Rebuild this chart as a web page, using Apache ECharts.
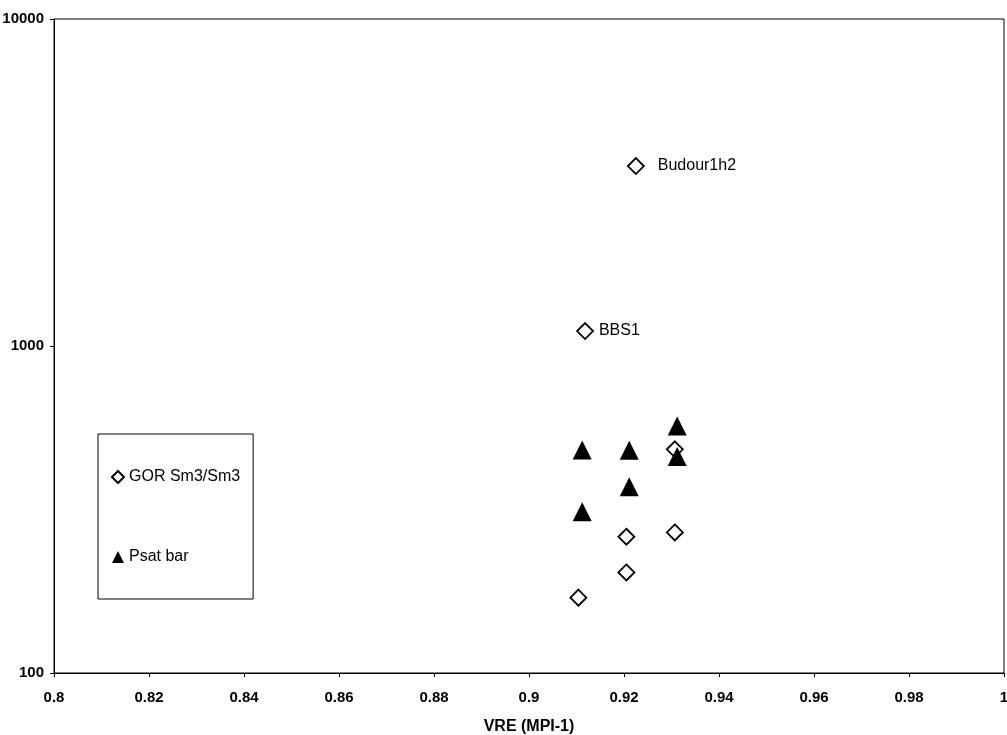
<!DOCTYPE html>
<html>
<head>
<meta charset="utf-8">
<title>GOR and Psat vs VRE</title>
<script src="https://cdn.jsdelivr.net/npm/echarts@6/dist/echarts.min.js"></script>
<style>
  html, body { margin: 0; padding: 0; background: #ffffff; }
  #chart { width: 1007px; height: 735px; }
</style>
</head>
<body>
<div id="chart"></div>
<script>
// Gas-oil ratio (Sm3/Sm3) per well against VRE
const gorVre    = [0.9104, 0.9205, 0.9205, 0.9307, 0.9307, 0.9118, 0.9225];
const gorValues = [170, 203, 261, 269, 483, 1111, 3550];
const gorNames  = ['', '', '', '', '', 'BBS1', 'Budour1h2'];

// Saturation pressure (bar) against VRE
const psatVre    = [0.9112, 0.9112, 0.9211, 0.9211, 0.9312, 0.9312];
const psatValues = [311, 481, 371, 480, 459, 569];

// Axis tick labels
const xTickLabels = ['0.8', '0.82', '0.84', '0.86', '0.88', '0.9', '0.92', '0.94', '0.96', '0.98', '1'];
const yTickLabels = { 100: '100', 1000: '1000', 10000: '10000' };

const seriesNames = ['GOR Sm3/Sm3', 'Psat bar'];
const font = 'Arial, "Liberation Sans", Helvetica, sans-serif';

// Label spacing next to the named wells
const labelDistance = { 'BBS1': 5, 'Budour1h2': 13 };

const gorData = gorVre.map((x, i) => {
  const item = { value: [x, gorValues[i]], name: gorNames[i] };
  if (gorNames[i]) {
    item.label = {
      show: true,
      position: 'right',
      distance: labelDistance[gorNames[i]],
      formatter: '{b}',
      color: '#000',
      fontFamily: font,
      fontSize: 16
    };
  }
  return item;
});
const psatData = psatVre.map((x, i) => [x, psatValues[i]]);

const chart = echarts.init(document.getElementById('chart'), null, { renderer: 'canvas' });

chart.setOption({
  backgroundColor: '#ffffff',
  animation: false,
  grid: {
    left: 54, right: 3, top: 19, bottom: 62,
    outerBoundsMode: 'none',
    containLabel: false,
    show: true, borderColor: '#000', borderWidth: 1, backgroundColor: 'transparent'
  },
  legend: {
    orient: 'vertical',
    left: 98, top: 434,
    padding: [34, 13, 33, 13],
    itemGap: 62,
    itemWidth: 12, itemHeight: 12,
    borderColor: '#000', borderWidth: 1,
    textStyle: { color: '#000', fontFamily: font, fontSize: 16, lineHeight: 18 },
    data: seriesNames
  },
  xAxis: {
    type: 'value',
    min: 0.8, max: 1, interval: 0.02,
    name: 'VRE (MPI-1)',
    nameLocation: 'middle',
    nameGap: 46,
    nameTextStyle: { color: '#000', fontFamily: font, fontSize: 16, fontWeight: 'bold' },
    axisLine: { show: true, lineStyle: { color: '#000', width: 1 } },
    axisTick: { show: true, length: 4, lineStyle: { color: '#000' } },
    axisLabel: {
      margin: 17, color: '#000', fontFamily: font, fontSize: 15, fontWeight: 'bold',
      formatter: (v, i) => xTickLabels[i] !== undefined ? xTickLabels[i] : String(+v.toFixed(2))
    },
    splitLine: { show: false }
  },
  yAxis: {
    type: 'log',
    logBase: 10,
    min: 100, max: 10000,
    axisLine: { show: true, lineStyle: { color: '#000', width: 1 } },
    axisTick: { show: true, length: 4, lineStyle: { color: '#000' } },
    minorTick: { show: false },
    axisLabel: {
      margin: 10, color: '#000', fontFamily: font, fontSize: 15, fontWeight: 'bold',
      formatter: v => yTickLabels[Math.round(v)] || String(Math.round(v))
    },
    splitLine: { show: false }
  },
  series: [
    {
      name: seriesNames[0],
      type: 'scatter',
      symbol: 'diamond',
      symbolSize: 16,
      itemStyle: { color: '#ffffff', borderColor: '#000', borderWidth: 1.8, opacity: 1 },
      data: gorData,
      z: 2
    },
    {
      name: seriesNames[1],
      type: 'scatter',
      symbol: 'triangle',
      symbolSize: [19, 19],
      itemStyle: { color: '#000', borderColor: '#000', borderWidth: 0, opacity: 1 },
      data: psatData,
      z: 3
    }
  ]
});
</script>
</body>
</html>
